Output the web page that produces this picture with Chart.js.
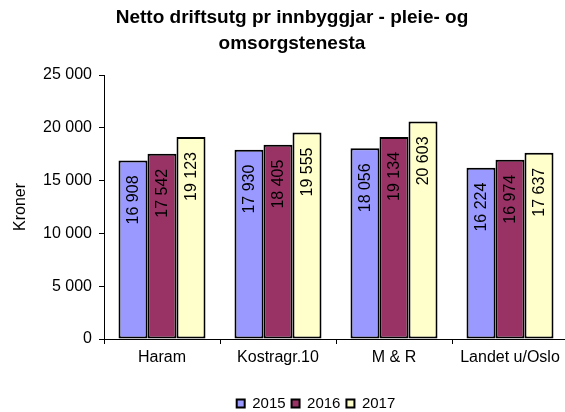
<!DOCTYPE html>
<html>
<head>
<meta charset="utf-8">
<script src="https://cdn.jsdelivr.net/npm/chart.js@4.4.1/dist/chart.umd.min.js"></script>
<style>
  html, body { margin: 0; padding: 0; background: #fff; overflow: hidden; }
  #wrap { width: 572px; height: 412px; }
</style>
</head>
<body>
<div id="wrap"><canvas id="c" width="572" height="412"></canvas></div>
<script>
const categories = ['Haram', 'Kostragr.10', 'M & R', 'Landet u/Oslo'];
const seriesNames = ['2015', '2016', '2017'];
const values2015 = [16908, 17930, 18056, 16224];
const values2016 = [17542, 18405, 19134, 16974];
const values2017 = [19123, 19555, 20603, 17637];
const yTicks = [0, 5000, 10000, 15000, 20000, 25000];
const titleLines = ['Netto driftsutg pr innbyggjar - pleie- og', 'omsorgstenesta'];
const yTitle = 'Kroner';

const FONT = 'Arial, "Liberation Sans", Helvetica, sans-serif';
const fmt = v => String(v).replace(/\B(?=(\d{3})+(?!\d))/g, ' ');

const barLabels = {
  id: 'barLabels',
  afterDatasetsDraw(chart) {
    const ctx = chart.ctx;
    ctx.save();
    ctx.font = '16px ' + FONT;
    ctx.fillStyle = '#000';
    ctx.textAlign = 'right';
    ctx.textBaseline = 'middle';
    chart.data.datasets.forEach((ds, di) => {
      chart.getDatasetMeta(di).data.forEach((bar, i) => {
        ctx.save();
        ctx.translate(bar.x + 1, bar.y + 15);
        ctx.rotate(-Math.PI / 2);
        ctx.fillText(fmt(ds.data[i]), 0, 0);
        ctx.restore();
      });
    });
    ctx.restore();
  }
};

const shiftBoxes = {
  id: 'shiftBoxes',
  afterLayout(chart) {
    const lg = chart.legend;
    if (lg) { lg.left += 32; lg.right += 32; lg.top += 9; lg.bottom += 9; }
    const t = chart.titleBlock;
    if (t) { t.left += 8; t.right += 8; }
  }
};

const colors = ['#9999FF', '#993366', '#FFFFCC'];
const seriesValues = [values2015, values2016, values2017];

new Chart(document.getElementById('c'), {
  type: 'bar',
  data: {
    labels: categories,
    datasets: seriesNames.map((n, k) => ({
      label: n,
      data: seriesValues[k],
      backgroundColor: colors[k],
      borderColor: '#000',
      borderWidth: 2,
      borderSkipped: false,
      categoryPercentage: 0.75,
      barPercentage: 1.0
    }))
  },
  options: {
    responsive: false,
    animation: false,
    devicePixelRatio: 1,
    layout: { padding: { left: 0, right: 4, top: 0, bottom: 0 } },
    plugins: {
      title: {
        display: true,
        text: titleLines,
        color: '#000',
        font: { family: FONT, size: 19, weight: 'bold', lineHeight: '26px' },
        padding: { top: 5, bottom: 18 }
      },
      legend: {
        position: 'bottom',
        labels: {
          color: '#000',
          font: { family: FONT, size: 15 },
          boxWidth: 8,
          boxHeight: 8,
          padding: 6
        }
      },
      tooltip: { enabled: false }
    },
    scales: {
      x: {
        grid: { display: true, drawOnChartArea: false, drawTicks: true, tickLength: 5, color: '#000' },
        border: { display: true, color: '#000', width: 1 },
        ticks: { color: '#000', font: { family: FONT, size: 16 }, padding: 4, maxRotation: 0, autoSkip: false },
        afterFit(s) { s.height = 42; }
      },
      y: {
        min: 0, max: 25000,
        afterBuildTicks(s) { s.ticks = yTicks.map(v => ({ value: v })); },
        grid: { display: true, drawOnChartArea: false, drawTicks: true, tickLength: 5, color: '#000' },
        border: { display: true, color: '#000', width: 1 },
        ticks: { color: '#000', font: { family: FONT, size: 16 }, padding: 7, callback: v => fmt(v) },
        title: { display: true, text: yTitle, color: '#000', font: { family: FONT, size: 16 }, padding: { top: 11, bottom: 0 } },
        afterFit(s) { s.width = 104; }
      }
    }
  },
  plugins: [barLabels, shiftBoxes]
});
</script>
</body>
</html>
